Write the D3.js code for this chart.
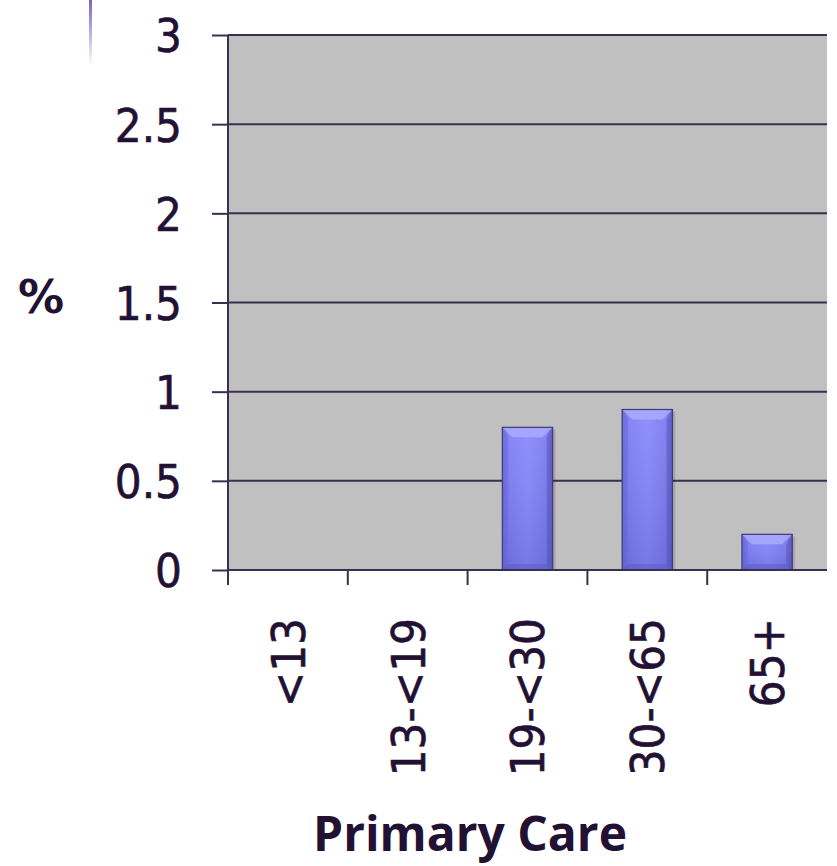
<!DOCTYPE html>
<html>
<head>
<meta charset="utf-8">
<script src="https://cdn.jsdelivr.net/npm/d3@7"></script>
<style>
  html, body { margin: 0; padding: 0; background: #ffffff; }
  svg { display: block; }
</style>
</head>
<body>
<svg id="chart" width="837" height="866"></svg>
<script>
const categories = ["<13", "13-<19", "19-<30", "30-<65", "65+"];
const values = [0, 0, 0.8, 0.9, 0.2];
const yTicks = [0, 0.5, 1, 1.5, 2, 2.5, 3];
const yTickLabels = ["0", "0.5", "1", "1.5", "2", "2.5", "3"];
const yAxisTitle = "%";
const xAxisTitle = "Primary Care";

const svg = d3.select("#chart");
const textColor = "#221133";
const lineColor = "#3a2f4c";
const numFont = "'DejaVu Sans Condensed', 'DejaVu Sans', sans-serif";
const boldFont = "'Open Sans', 'Noto Sans', sans-serif";

const plot = { left: 228, right: 827, top: 35, bottom: 570 };

const x = d3.scaleBand().domain(categories).range([plot.left, plot.right]).paddingInner(0.58).paddingOuter(0.29);
const xTickScale = d3.scaleBand().domain(categories).range([plot.left, plot.right]);
const y = d3.scaleLinear().domain([0, 3]).range([plot.bottom, plot.top]);

const defs = svg.append("defs");
const deco = defs.append("linearGradient").attr("id", "deco").attr("x1", 0).attr("y1", 0).attr("x2", 0).attr("y2", 1);
deco.append("stop").attr("offset", "0%").attr("stop-color", "#7a62c4");
deco.append("stop").attr("offset", "100%").attr("stop-color", "#ffffff");

const barGrad = defs.append("linearGradient").attr("id", "barGrad").attr("x1", 0).attr("y1", 0).attr("x2", 1).attr("y2", 0);
barGrad.append("stop").attr("offset", "0%").attr("stop-color", "#6464d8");
barGrad.append("stop").attr("offset", "12%").attr("stop-color", "#7c7cf4");
barGrad.append("stop").attr("offset", "50%").attr("stop-color", "#8787fe");
barGrad.append("stop").attr("offset", "88%").attr("stop-color", "#7a7af0");
barGrad.append("stop").attr("offset", "100%").attr("stop-color", "#5c5cc8");

const vGrad = defs.append("linearGradient").attr("id", "vGrad").attr("x1", 0).attr("y1", 0).attr("x2", 0).attr("y2", 1);
vGrad.append("stop").attr("offset", "0%").attr("stop-color", "#ffffff").attr("stop-opacity", 0.08);
vGrad.append("stop").attr("offset", "100%").attr("stop-color", "#000040").attr("stop-opacity", 0.12);

defs.append("clipPath").attr("id", "labelClip")
  .append("rect").attr("x", 0).attr("y", 0).attr("width", 837).attr("height", 772);

// decorative line at top-left
svg.append("rect").attr("x", 89).attr("y", 0).attr("width", 3).attr("height", 66).attr("fill", "url(#deco)");

// plot background
svg.append("rect")
  .attr("x", plot.left).attr("y", plot.top)
  .attr("width", plot.right - plot.left).attr("height", plot.bottom - plot.top)
  .attr("fill", "#c0c0c0");

// gridlines
svg.append("g").selectAll("line").data(yTicks.filter(d => d > 0)).join("line")
  .attr("x1", plot.left).attr("x2", plot.right)
  .attr("y1", d => y(d)).attr("y2", d => y(d))
  .attr("stroke", lineColor).attr("stroke-width", 2);

// Y axis
const yAxis = d3.axisLeft(y).tickValues(yTicks).tickSize(16).tickPadding(30)
  .tickFormat((d, i) => yTickLabels[i]);
const gy = svg.append("g").attr("transform", `translate(${plot.left},0)`).call(yAxis);
gy.select(".domain").attr("stroke", lineColor).attr("stroke-width", 2).attr("d", `M0,${plot.top}V${plot.bottom}`);
gy.selectAll(".tick line").attr("stroke", lineColor).attr("stroke-width", 2);
gy.selectAll(".tick text").attr("fill", textColor).attr("font-family", numFont).attr("font-size", 47)
  .attr("dy", "0.36em").attr("stroke", textColor).attr("stroke-width", 0.6);

// X axis baseline and ticks
const xBoundaries = categories.map(c => xTickScale(c));
const gx = svg.append("g");
gx.append("line").attr("x1", plot.left).attr("x2", plot.right).attr("y1", y(0)).attr("y2", y(0))
  .attr("stroke", lineColor).attr("stroke-width", 2);
gx.selectAll("line.tk").data(xBoundaries).join("line").attr("class", "tk")
  .attr("x1", d => d).attr("x2", d => d).attr("y1", y(0)).attr("y2", y(0) + 15)
  .attr("stroke", lineColor).attr("stroke-width", 2);

// X labels (rotated)
svg.append("g").attr("clip-path", "url(#labelClip)")
  .selectAll("text").data(categories).join("text")
  .attr("transform", d => `translate(${xTickScale(d) + xTickScale.bandwidth() / 2},${y(0) + 48}) rotate(-90)`)
  .attr("text-anchor", "end").attr("dy", "0.36em")
  .attr("fill", textColor).attr("font-family", numFont).attr("font-size", 47)
  .attr("stroke", textColor).attr("stroke-width", 0.6)
  .text(d => d);

// bars
const bars = svg.append("g");
const data = categories.map((c, i) => ({ c, v: values[i] })).filter(d => d.v > 0);
data.forEach(d => {
  const bx = x(d.c), bw = x.bandwidth(), by = y(d.v), bh = y(0) - y(d.v);
  const bev = Math.min(10, bh / 3);
  const g = bars.append("g");
  g.append("rect").attr("x", bx + 3).attr("y", by + 2).attr("width", bw).attr("height", bh - 2)
    .attr("fill", "#000000").attr("opacity", 0.12);
  g.append("rect").attr("x", bx).attr("y", by).attr("width", bw).attr("height", bh).attr("fill", "url(#barGrad)");
  g.append("rect").attr("x", bx).attr("y", by).attr("width", bw).attr("height", bh).attr("fill", "url(#vGrad)");
  // top bevel
  g.append("path").attr("d", `M${bx},${by}L${bx + bw},${by}L${bx + bw - bev},${by + bev}L${bx + bev},${by + bev}Z`)
    .attr("fill", "#aaaaff").attr("opacity", 0.85);
  // left bevel
  g.append("path").attr("d", `M${bx},${by}L${bx + bev * 0.6},${by + bev}L${bx + bev * 0.6},${by + bh - bev * 0.6}L${bx},${by + bh}Z`)
    .attr("fill", "#6a6ae0").attr("opacity", 0.5);
  // right bevel
  g.append("path").attr("d", `M${bx + bw},${by}L${bx + bw - bev * 0.6},${by + bev}L${bx + bw - bev * 0.6},${by + bh - bev * 0.6}L${bx + bw},${by + bh}Z`)
    .attr("fill", "#5656c0").attr("opacity", 0.5);
  // bottom bevel
  g.append("path").attr("d", `M${bx},${by + bh}L${bx + bev * 0.6},${by + bh - bev * 0.6}L${bx + bw - bev * 0.6},${by + bh - bev * 0.6}L${bx + bw},${by + bh}Z`)
    .attr("fill", "#5a5ac8").attr("opacity", 0.5);
  g.append("rect").attr("x", bx).attr("y", by).attr("width", bw).attr("height", bh)
    .attr("fill", "none").attr("stroke", "#3c3c7a").attr("stroke-width", 1.2);
});

// redraw baseline on top of bars
svg.append("line").attr("x1", plot.left).attr("x2", plot.right).attr("y1", y(0)).attr("y2", y(0))
  .attr("stroke", lineColor).attr("stroke-width", 2);

// axis titles
svg.append("text").attr("x", 41).attr("y", 313).attr("text-anchor", "middle")
  .attr("fill", textColor).attr("font-family", "'DejaVu Sans', sans-serif").attr("font-weight", "bold").attr("font-size", 46)
  .text(yAxisTitle);
svg.append("text").attr("x", 470).attr("y", 851).attr("text-anchor", "middle")
  .attr("fill", textColor).attr("font-family", boldFont).attr("font-weight", "bold").attr("font-size", 48)
  .text(xAxisTitle);
</script>
</body>
</html>
